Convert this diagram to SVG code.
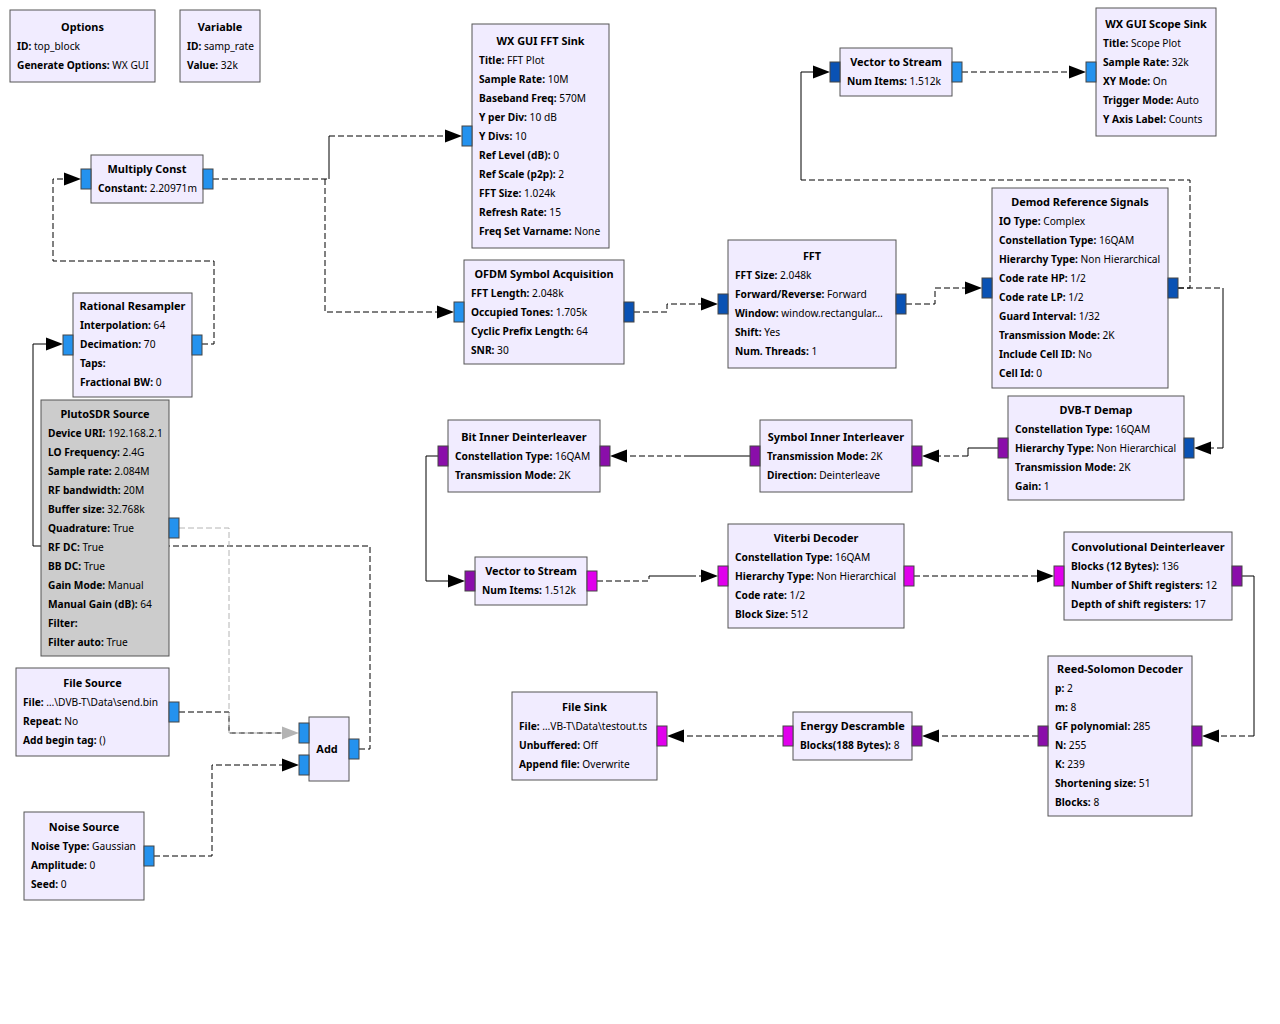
<svg xmlns="http://www.w3.org/2000/svg" xmlns:xlink="http://www.w3.org/1999/xlink" width="1280" height="1024" viewBox="0 0 1280 1024">
<style>
.blk{fill:#F1ECFF;stroke:#555;stroke-width:1}
.dis{fill:#CCCCCC;stroke:#555;stroke-width:1}
.p{stroke:#444;stroke-width:1}
.lb{fill:#2492EE}.db{fill:#0A52B4}.pu{fill:#8A0EAA}.mg{fill:#E000EC}
text{font-family:"Noto Sans","Open Sans","DejaVu Sans",sans-serif;font-size:10.2px;fill:#000}
.t{font-weight:bold;text-anchor:middle;font-size:10.9px}
.b{font-weight:bold}
.d{fill:none;stroke:#000;stroke-width:1;stroke-dasharray:6,3}
.s{fill:none;stroke:#000;stroke-width:1}
.g{fill:none;stroke:#B4B4B4;stroke-width:1;stroke-dasharray:6,3}
.ah{fill:#000}
.ahg{fill:#B4B4B4}
</style>
<defs>
<path id="arR" d="M0,0 L-17,-6.5 L-17,6.5 Z"/>
<path id="arL" d="M0,0 L17,-6.5 L17,6.5 Z"/>
</defs>
<rect width="1280" height="1024" fill="#FFFFFF"/>

<g id="connectors">
<!-- Multiply Const -> WX GUI FFT Sink -->
<path class="d" d="M213,179 H329"/><path class="s" d="M329,179 V136"/><path class="d" d="M329,136 H446"/>
<use href="#arR" class="ah" x="462" y="136"/>
<!-- Multiply Const -> OFDM Symbol Acquisition -->
<path class="d" d="M325,179 V312 H438"/>
<use href="#arR" class="ah" x="454" y="312"/>
<!-- Rational Resampler -> Multiply Const -->
<path class="d" d="M202,344 H214 V261 H53 V179 H65"/>
<use href="#arR" class="ah" x="81" y="179"/>
<!-- Add -> Rational Resampler -->
<path class="d" d="M359,749 H370 V546 H169"/><path class="s" d="M169,546 H33 V344 H47"/>
<use href="#arR" class="ah" x="63" y="344"/>
<!-- File Source -> Add -->
<path class="d" d="M179,712 H229 V733 H283"/>
<!-- PlutoSDR Source -> Add (disabled) -->
<path class="g" d="M179,528 H229 V733 H283"/>
<use href="#arR" class="ahg" x="299" y="733"/>
<!-- Noise Source -> Add -->
<path class="d" d="M154,856 H212 V765 H283"/>
<use href="#arR" class="ah" x="299" y="765"/>
<!-- OFDM -> FFT -->
<path class="d" d="M634,312 H667 V304 H702"/>
<use href="#arR" class="ah" x="718" y="304"/>
<!-- FFT -> Demod Reference Signals -->
<path class="d" d="M906,304 H935 V288 H966"/>
<use href="#arR" class="ah" x="982" y="288"/>
<!-- Demod -> Vector to Stream (top) -->
<path class="d" d="M1178,288 H1190 V180 H801"/><path class="s" d="M801,180 V72 H814"/>
<use href="#arR" class="ah" x="830" y="72"/>
<!-- Vector to Stream -> WX GUI Scope Sink -->
<path class="d" d="M962,72 H1070"/>
<use href="#arR" class="ah" x="1086" y="72"/>
<!-- Demod -> DVB-T Demap -->
<path class="d" d="M1178,288 H1223"/><path class="s" d="M1223,288 V448"/><path class="d" d="M1223,448 H1210"/>
<use href="#arL" class="ah" x="1194" y="448"/>
<!-- DVB-T Demap -> Symbol Inner Interleaver -->
<path class="s" d="M998,448 H968 V456"/><path class="d" d="M968,456 H938"/>
<use href="#arL" class="ah" x="922" y="456"/>
<!-- Symbol Inner Interleaver -> Bit Inner Deinterleaver -->
<path class="s" d="M750,456 H690"/><path class="d" d="M690,456 H626"/>
<use href="#arL" class="ah" x="610" y="456"/>
<!-- Bit Inner Deinterleaver -> Vector to Stream (lower) -->
<path class="s" d="M438,456 H426 V581 H449"/>
<use href="#arR" class="ah" x="465" y="581"/>
<!-- Vector to Stream -> Viterbi Decoder -->
<path class="d" d="M597,581 H649 V576"/><path class="s" d="M649,576 H690"/><path class="d" d="M690,576 H702"/>
<use href="#arR" class="ah" x="718" y="576"/>
<!-- Viterbi -> Convolutional Deinterleaver -->
<path class="d" d="M914,576 H1038"/>
<use href="#arR" class="ah" x="1054" y="576"/>
<!-- Convolutional Deinterleaver -> Reed-Solomon -->
<path class="s" d="M1242,576 H1254 V736"/><path class="d" d="M1254,736 H1218"/>
<use href="#arL" class="ah" x="1202" y="736"/>
<!-- Reed-Solomon -> Energy Descramble -->
<path class="d" d="M1038,736 H938"/>
<use href="#arL" class="ah" x="922" y="736"/>
<!-- Energy Descramble -> File Sink -->
<path class="d" d="M783,736 H683"/>
<use href="#arL" class="ah" x="667" y="736"/>
</g>

<g id="n-options" transform="translate(10,10)">
<rect class="blk" width="145" height="72"/>
<text class="t" x="72.5" y="20.5">Options</text>
<text x="7" y="39.5"><tspan class="b">ID:</tspan> top_block</text>
<text x="7" y="58.5"><tspan class="b">Generate Options:</tspan> WX GUI</text>
</g>

<g id="n-variable" transform="translate(180,10)">
<rect class="blk" width="80" height="72"/>
<text class="t" x="40" y="20.5">Variable</text>
<text x="7" y="39.5"><tspan class="b">ID:</tspan> samp_rate</text>
<text x="7" y="58.5"><tspan class="b">Value:</tspan> 32k</text>
</g>

<g id="n-multiply-const" transform="translate(91,155)">
<rect class="blk" width="112" height="48"/>
<text class="t" x="56" y="18">Multiply Const</text>
<text x="7" y="37"><tspan class="b">Constant:</tspan> 2.20971m</text>
<rect class="p lb" x="-10" y="14" width="10" height="20"/>
<rect class="p lb" x="112" y="14" width="10" height="20"/>
</g>

<g id="n-rational-resampler" transform="translate(73,293)">
<rect class="blk" width="119" height="104"/>
<text class="t" x="59.5" y="16.5">Rational Resampler</text>
<text x="7" y="35.5"><tspan class="b">Interpolation:</tspan> 64</text>
<text x="7" y="54.5"><tspan class="b">Decimation:</tspan> 70</text>
<text x="7" y="73.5"><tspan class="b">Taps:</tspan></text>
<text x="7" y="92.5"><tspan class="b">Fractional BW:</tspan> 0</text>
<rect class="p lb" x="-10" y="42" width="10" height="20"/>
<rect class="p lb" x="119" y="42" width="10" height="20"/>
</g>

<g id="n-plutosdr-source" transform="translate(41,400)">
<rect class="dis" width="128" height="256"/>
<text class="t" x="64" y="17.5">PlutoSDR Source</text>
<text x="7" y="36.5"><tspan class="b">Device URI:</tspan> 192.168.2.1</text>
<text x="7" y="55.5"><tspan class="b">LO Frequency:</tspan> 2.4G</text>
<text x="7" y="74.5"><tspan class="b">Sample rate:</tspan> 2.084M</text>
<text x="7" y="93.5"><tspan class="b">RF bandwidth:</tspan> 20M</text>
<text x="7" y="112.5"><tspan class="b">Buffer size:</tspan> 32.768k</text>
<text x="7" y="131.5"><tspan class="b">Quadrature:</tspan> True</text>
<text x="7" y="150.5"><tspan class="b">RF DC:</tspan> True</text>
<text x="7" y="169.5"><tspan class="b">BB DC:</tspan> True</text>
<text x="7" y="188.5"><tspan class="b">Gain Mode:</tspan> Manual</text>
<text x="7" y="207.5"><tspan class="b">Manual Gain (dB):</tspan> 64</text>
<text x="7" y="226.5"><tspan class="b">Filter:</tspan></text>
<text x="7" y="245.5"><tspan class="b">Filter auto:</tspan> True</text>
<rect class="p lb" x="128" y="118" width="10" height="20"/>
</g>

<g id="n-file-source" transform="translate(16,668)">
<rect class="blk" width="153" height="88"/>
<text class="t" x="76.5" y="19">File Source</text>
<text x="7" y="38"><tspan class="b">File:</tspan> …\DVB-T\Data\send.bin</text>
<text x="7" y="57"><tspan class="b">Repeat:</tspan> No</text>
<text x="7" y="76"><tspan class="b">Add begin tag:</tspan> ()</text>
<rect class="p lb" x="153" y="34" width="10" height="20"/>
</g>

<g id="n-noise-source" transform="translate(24,812)">
<rect class="blk" width="120" height="88"/>
<text class="t" x="60" y="19">Noise Source</text>
<text x="7" y="38"><tspan class="b">Noise Type:</tspan> Gaussian</text>
<text x="7" y="57"><tspan class="b">Amplitude:</tspan> 0</text>
<text x="7" y="76"><tspan class="b">Seed:</tspan> 0</text>
<rect class="p lb" x="120" y="34" width="10" height="20"/>
</g>

<g id="n-add" transform="translate(309,717)">
<rect class="blk" width="40" height="64"/>
<text class="t" x="18" y="35.5">Add</text>
<rect class="p lb" x="-10" y="6" width="10" height="20"/>
<rect class="p lb" x="-10" y="38" width="10" height="20"/>
<rect class="p lb" x="40" y="22" width="10" height="20"/>
</g>

<g id="n-wx-gui-fft-sink" transform="translate(472,24)">
<rect class="blk" width="137" height="224"/>
<text class="t" x="68.5" y="20.5">WX GUI FFT Sink</text>
<text x="7" y="39.5"><tspan class="b">Title:</tspan> FFT Plot</text>
<text x="7" y="58.5"><tspan class="b">Sample Rate:</tspan> 10M</text>
<text x="7" y="77.5"><tspan class="b">Baseband Freq:</tspan> 570M</text>
<text x="7" y="96.5"><tspan class="b">Y per Div:</tspan> 10 dB</text>
<text x="7" y="115.5"><tspan class="b">Y Divs:</tspan> 10</text>
<text x="7" y="134.5"><tspan class="b">Ref Level (dB):</tspan> 0</text>
<text x="7" y="153.5"><tspan class="b">Ref Scale (p2p):</tspan> 2</text>
<text x="7" y="172.5"><tspan class="b">FFT Size:</tspan> 1.024k</text>
<text x="7" y="191.5"><tspan class="b">Refresh Rate:</tspan> 15</text>
<text x="7" y="210.5"><tspan class="b">Freq Set Varname:</tspan> None</text>
<rect class="p lb" x="-10" y="102" width="10" height="20"/>
</g>

<g id="n-ofdm-symbol-acquisition" transform="translate(464,260)">
<rect class="blk" width="160" height="104"/>
<text class="t" x="80" y="17.5">OFDM Symbol Acquisition</text>
<text x="7" y="36.5"><tspan class="b">FFT Length:</tspan> 2.048k</text>
<text x="7" y="55.5"><tspan class="b">Occupied Tones:</tspan> 1.705k</text>
<text x="7" y="74.5"><tspan class="b">Cyclic Prefix Length:</tspan> 64</text>
<text x="7" y="93.5"><tspan class="b">SNR:</tspan> 30</text>
<rect class="p lb" x="-10" y="42" width="10" height="20"/>
<rect class="p db" x="160" y="42" width="10" height="20"/>
</g>

<g id="n-fft" transform="translate(728,240)">
<rect class="blk" width="168" height="128"/>
<text class="t" x="84" y="20">FFT</text>
<text x="7" y="39"><tspan class="b">FFT Size:</tspan> 2.048k</text>
<text x="7" y="58"><tspan class="b">Forward/Reverse:</tspan> Forward</text>
<text x="7" y="77"><tspan class="b">Window:</tspan> window.rectangular…</text>
<text x="7" y="96"><tspan class="b">Shift:</tspan> Yes</text>
<text x="7" y="115"><tspan class="b">Num. Threads:</tspan> 1</text>
<rect class="p db" x="-10" y="54" width="10" height="20"/>
<rect class="p db" x="168" y="54" width="10" height="20"/>
</g>

<g id="n-vector-to-stream-1" transform="translate(840,48)">
<rect class="blk" width="112" height="48"/>
<text class="t" x="56" y="18">Vector to Stream</text>
<text x="7" y="37"><tspan class="b">Num Items:</tspan> 1.512k</text>
<rect class="p db" x="-10" y="14" width="10" height="20"/>
<rect class="p lb" x="112" y="14" width="10" height="20"/>
</g>

<g id="n-wx-gui-scope-sink" transform="translate(1096,8)">
<rect class="blk" width="120" height="128"/>
<text class="t" x="60" y="20">WX GUI Scope Sink</text>
<text x="7" y="39"><tspan class="b">Title:</tspan> Scope Plot</text>
<text x="7" y="58"><tspan class="b">Sample Rate:</tspan> 32k</text>
<text x="7" y="77"><tspan class="b">XY Mode:</tspan> On</text>
<text x="7" y="96"><tspan class="b">Trigger Mode:</tspan> Auto</text>
<text x="7" y="115"><tspan class="b">Y Axis Label:</tspan> Counts</text>
<rect class="p lb" x="-10" y="54" width="10" height="20"/>
</g>

<g id="n-demod-reference-signals" transform="translate(992,188)">
<rect class="blk" width="176" height="200"/>
<text class="t" x="88" y="18">Demod Reference Signals</text>
<text x="7" y="37"><tspan class="b">IO Type:</tspan> Complex</text>
<text x="7" y="56"><tspan class="b">Constellation Type:</tspan> 16QAM</text>
<text x="7" y="75"><tspan class="b">Hierarchy Type:</tspan> Non Hierarchical</text>
<text x="7" y="94"><tspan class="b">Code rate HP:</tspan> 1/2</text>
<text x="7" y="113"><tspan class="b">Code rate LP:</tspan> 1/2</text>
<text x="7" y="132"><tspan class="b">Guard Interval:</tspan> 1/32</text>
<text x="7" y="151"><tspan class="b">Transmission Mode:</tspan> 2K</text>
<text x="7" y="170"><tspan class="b">Include Cell ID:</tspan> No</text>
<text x="7" y="189"><tspan class="b">Cell Id:</tspan> 0</text>
<rect class="p db" x="-10" y="90" width="10" height="20"/>
<rect class="p db" x="176" y="90" width="10" height="20"/>
</g>

<g id="n-dvbt-demap" transform="translate(1008,396)">
<rect class="blk" width="176" height="104"/>
<text class="t" x="88" y="17.5">DVB-T Demap</text>
<text x="7" y="36.5"><tspan class="b">Constellation Type:</tspan> 16QAM</text>
<text x="7" y="55.5"><tspan class="b">Hierarchy Type:</tspan> Non Hierarchical</text>
<text x="7" y="74.5"><tspan class="b">Transmission Mode:</tspan> 2K</text>
<text x="7" y="93.5"><tspan class="b">Gain:</tspan> 1</text>
<rect class="p pu" x="-10" y="42" width="10" height="20"/>
<rect class="p db" x="176" y="42" width="10" height="20"/>
</g>

<g id="n-symbol-inner-interleaver" transform="translate(760,420)">
<rect class="blk" width="152" height="72"/>
<text class="t" x="76" y="20.5">Symbol Inner Interleaver</text>
<text x="7" y="39.5"><tspan class="b">Transmission Mode:</tspan> 2K</text>
<text x="7" y="58.5"><tspan class="b">Direction:</tspan> Deinterleave</text>
<rect class="p pu" x="-10" y="26" width="10" height="20"/>
<rect class="p pu" x="152" y="26" width="10" height="20"/>
</g>

<g id="n-bit-inner-deinterleaver" transform="translate(448,420)">
<rect class="blk" width="152" height="72"/>
<text class="t" x="76" y="20.5">Bit Inner Deinterleaver</text>
<text x="7" y="39.5"><tspan class="b">Constellation Type:</tspan> 16QAM</text>
<text x="7" y="58.5"><tspan class="b">Transmission Mode:</tspan> 2K</text>
<rect class="p pu" x="-10" y="26" width="10" height="20"/>
<rect class="p pu" x="152" y="26" width="10" height="20"/>
</g>

<g id="n-vector-to-stream-2" transform="translate(475,557)">
<rect class="blk" width="112" height="48"/>
<text class="t" x="56" y="18">Vector to Stream</text>
<text x="7" y="37"><tspan class="b">Num Items:</tspan> 1.512k</text>
<rect class="p pu" x="-10" y="14" width="10" height="20"/>
<rect class="p mg" x="112" y="14" width="10" height="20"/>
</g>

<g id="n-viterbi-decoder" transform="translate(728,524)">
<rect class="blk" width="176" height="104"/>
<text class="t" x="88" y="17.5">Viterbi Decoder</text>
<text x="7" y="36.5"><tspan class="b">Constellation Type:</tspan> 16QAM</text>
<text x="7" y="55.5"><tspan class="b">Hierarchy Type:</tspan> Non Hierarchical</text>
<text x="7" y="74.5"><tspan class="b">Code rate:</tspan> 1/2</text>
<text x="7" y="93.5"><tspan class="b">Block Size:</tspan> 512</text>
<rect class="p mg" x="-10" y="42" width="10" height="20"/>
<rect class="p mg" x="176" y="42" width="10" height="20"/>
</g>

<g id="n-convolutional-deinterleaver" transform="translate(1064,532)">
<rect class="blk" width="168" height="88"/>
<text class="t" x="84" y="19">Convolutional Deinterleaver</text>
<text x="7" y="38"><tspan class="b">Blocks (12 Bytes):</tspan> 136</text>
<text x="7" y="57"><tspan class="b">Number of Shift registers:</tspan> 12</text>
<text x="7" y="76"><tspan class="b">Depth of shift registers:</tspan> 17</text>
<rect class="p mg" x="-10" y="34" width="10" height="20"/>
<rect class="p pu" x="168" y="34" width="10" height="20"/>
</g>

<g id="n-reed-solomon-decoder" transform="translate(1048,656)">
<rect class="blk" width="144" height="160"/>
<text class="t" x="72" y="17">Reed-Solomon Decoder</text>
<text x="7" y="36"><tspan class="b">p:</tspan> 2</text>
<text x="7" y="55"><tspan class="b">m:</tspan> 8</text>
<text x="7" y="74"><tspan class="b">GF polynomial:</tspan> 285</text>
<text x="7" y="93"><tspan class="b">N:</tspan> 255</text>
<text x="7" y="112"><tspan class="b">K:</tspan> 239</text>
<text x="7" y="131"><tspan class="b">Shortening size:</tspan> 51</text>
<text x="7" y="150"><tspan class="b">Blocks:</tspan> 8</text>
<rect class="p pu" x="-10" y="70" width="10" height="20"/>
<rect class="p pu" x="144" y="70" width="10" height="20"/>
</g>

<g id="n-energy-descramble" transform="translate(793,712)">
<rect class="blk" width="119" height="48"/>
<text class="t" x="59.5" y="18">Energy Descramble</text>
<text x="7" y="37"><tspan class="b">Blocks(188 Bytes):</tspan> 8</text>
<rect class="p mg" x="-10" y="14" width="10" height="20"/>
<rect class="p pu" x="119" y="14" width="10" height="20"/>
</g>

<g id="n-file-sink" transform="translate(512,692)">
<rect class="blk" width="145" height="88"/>
<text class="t" x="72.5" y="19">File Sink</text>
<text x="7" y="38"><tspan class="b">File:</tspan> …VB-T\Data\testout.ts</text>
<text x="7" y="57"><tspan class="b">Unbuffered:</tspan> Off</text>
<text x="7" y="76"><tspan class="b">Append file:</tspan> Overwrite</text>
<rect class="p mg" x="145" y="34" width="10" height="20"/>
</g>
</svg>
